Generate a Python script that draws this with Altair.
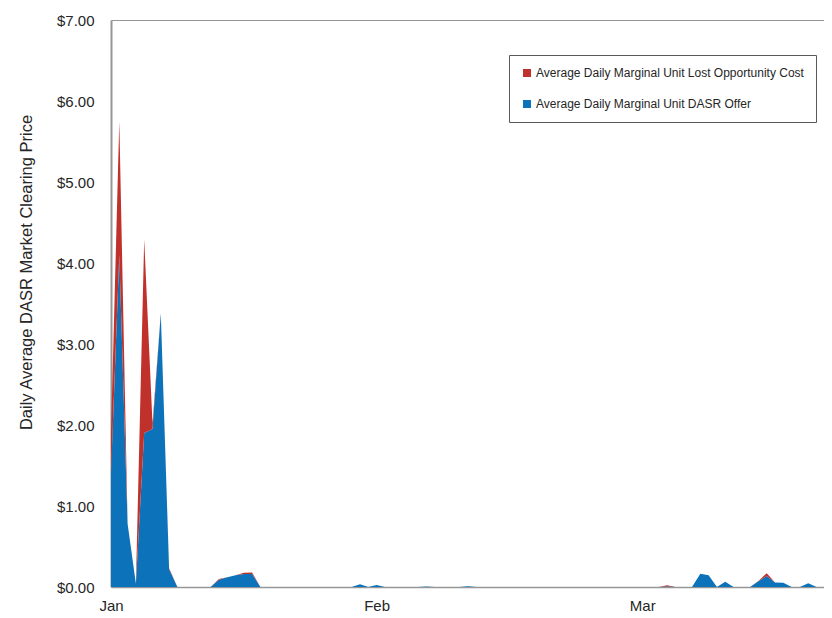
import altair as alt
import pandas as pd

series_names = [
    "Average Daily Marginal Unit Lost Opportunity Cost",
    "Average Daily Marginal Unit DASR Offer",
]
series_colors = ["#C0312B", "#0C72BA"]

# day index counted from Jan 1 (one value per day)
day_index = list(range(88))

dasr_offer = [
    1.40, 4.10, 0.78, 0.04, 1.90, 1.95, 3.38, 0.22, 0.00, 0.00,
    0.00, 0.00, 0.00, 0.09, 0.12, 0.145, 0.16, 0.16, 0.00, 0.00,
    0.00, 0.00, 0.00, 0.00, 0.00, 0.00, 0.00, 0.00, 0.00, 0.00,
    0.035, 0.00, 0.025, 0.00, 0.00, 0.00, 0.00, 0.00, 0.005, 0.00,
    0.00, 0.00, 0.00, 0.01, 0.00, 0.00, 0.00, 0.00, 0.00, 0.00,
    0.00, 0.00, 0.00, 0.00, 0.00, 0.00, 0.00, 0.00, 0.00, 0.00,
    0.00, 0.00, 0.00, 0.00, 0.00, 0.00, 0.00, 0.01, 0.00, 0.00,
    0.00, 0.165, 0.145, 0.00, 0.065, 0.00, 0.00, 0.00, 0.07, 0.135,
    0.055, 0.053, 0.00, 0.00, 0.045, 0.00, 0.00, 0.00,
]

lost_opportunity = [
    0.50, 1.65, 0.00, 0.00, 2.39, 0.07, 0.00, 0.01, 0.00, 0.00,
    0.00, 0.00, 0.00, 0.01, 0.00, 0.00, 0.015, 0.02, 0.00, 0.00,
    0.00, 0.00, 0.00, 0.00, 0.00, 0.00, 0.00, 0.00, 0.00, 0.00,
    0.00, 0.00, 0.00, 0.00, 0.00, 0.00, 0.00, 0.00, 0.00, 0.00,
    0.00, 0.00, 0.00, 0.00, 0.00, 0.00, 0.00, 0.00, 0.00, 0.00,
    0.00, 0.00, 0.00, 0.00, 0.00, 0.00, 0.00, 0.00, 0.00, 0.00,
    0.00, 0.00, 0.00, 0.00, 0.00, 0.00, 0.00, 0.012, 0.00, 0.00,
    0.00, 0.00, 0.00, 0.00, 0.00, 0.00, 0.00, 0.00, 0.005, 0.035,
    0.00, 0.00, 0.00, 0.00, 0.00, 0.00, 0.00, 0.00,
]

tick_days = [0, 32, 64]
tick_labels = ["Jan", "Feb", "Mar"]
y_ticks = [0, 1, 2, 3, 4, 5, 6, 7]

rows = []
for i, d in enumerate(day_index):
    rows.append({"day": d, "series": series_names[1], "value": dasr_offer[i], "ord": 0})
    rows.append({"day": d, "series": series_names[0], "value": lost_opportunity[i], "ord": 1})
df = pd.DataFrame(rows)

label_expr = " : ".join(
    f"datum.value == {d} ? '{t}'" for d, t in zip(tick_days, tick_labels)
) + " : ''"

FONT = "Liberation Sans, Arial, sans-serif"
TEXT = "#262626"
AXIS_GRAY = "#969696"

chart = (
    alt.Chart(df)
    .mark_area(interpolate="linear", clip=True)
    .encode(
        x=alt.X(
            "day:Q",
            scale=alt.Scale(domain=[0, 85.9], nice=False, zero=False),
            axis=alt.Axis(
                values=tick_days,
                labelExpr=label_expr,
                title=None,
                grid=False,
                ticks=False,
                labelFlush=False,
                domainColor=AXIS_GRAY,
                domainWidth=1.5,
                labelFont=FONT,
                labelFontSize=15,
                labelColor=TEXT,
                labelPadding=11,
            ),
        ),
        y=alt.Y(
            "value:Q",
            stack="zero",
            scale=alt.Scale(domain=[0, 7], nice=False),
            axis=alt.Axis(
                values=y_ticks,
                format="$.2f",
                title="Daily Average DASR Market Clearing Price",
                titleFont=FONT,
                titleFontSize=16.5,
                titleFontWeight="normal",
                titleColor=TEXT,
                titleAngle=270,
                titleX=-85,
                titleY=252,
                titleAlign="center",
                titleBaseline="middle",
                ticks=False,
                grid=True,
                gridColor=AXIS_GRAY,
                gridWidth=1,
                gridOpacity={"condition": {"test": "datum.value === 7", "value": 1}, "value": 0},
                domainColor=AXIS_GRAY,
                domainWidth=2,
                labelFont=FONT,
                labelFontSize=15,
                labelColor=TEXT,
                labelPadding=17,
            ),
        ),
        color=alt.Color(
            "series:N",
            scale=alt.Scale(domain=series_names, range=series_colors),
            legend=alt.Legend(
                orient="none",
                legendX=398,
                legendY=35,
                title=None,
                symbolType="square",
                symbolSize=64,
                symbolStrokeWidth=0,
                symbolOpacity=1,
                labelFont=FONT,
                labelFontSize=12,
                labelColor=TEXT,
                labelOffset=3,
                labelLimit=400,
                padding=12,
                rowPadding=19,
                strokeColor="#595959",
                fillColor="white",
            ),
        ),
        order=alt.Order("ord:Q"),
    )
    .properties(
        width=713,
        height=567,
        autosize=alt.AutoSizeParams(type="none"),
        padding={"left": 103, "top": 12, "right": 0, "bottom": 30},
        background="white",
    )
    .configure_view(stroke=None)
)

chart.save("out.html", embed_options={"renderer": "svg", "actions": False})
